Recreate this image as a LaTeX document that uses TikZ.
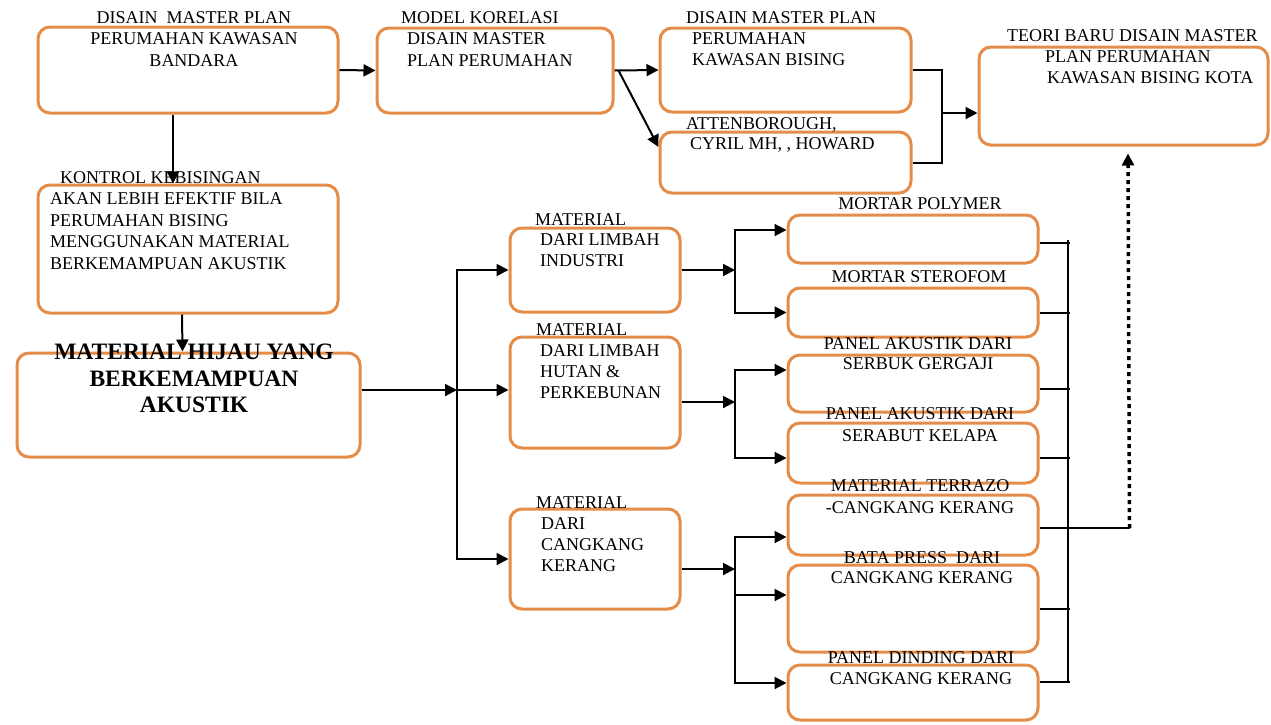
\documentclass[tikz,border=0pt]{standalone}
\usepackage{fontspec}
\setmainfont{Liberation Serif}
\usetikzlibrary{arrows.meta}
\definecolor{boxorange}{RGB}{228,140,72}
\tikzset{
  box/.style={draw=boxorange, line width=3pt, rounded corners=12pt, fill=white, inner sep=0pt},
  lbl/.style={font=\fontsize{18}{21}\selectfont, inner sep=0pt, text=black},
  lblc/.style={lbl, align=center, anchor=north},
  lbll/.style={lbl, align=left, anchor=north west},
  arr/.style={draw=black, line width=2pt, -{Triangle[width=12pt,length=12pt]}},
  conn/.style={draw=black, line width=2pt},
  dotarr/.style={draw=black, line width=3.5pt, dash pattern=on 4pt off 4pt, -{Triangle[width=12pt,length=12pt]}}
}
\begin{document}
\begin{tikzpicture}[x=1pt,y=-1pt]
\useasboundingbox (0,0) rectangle (1271,724);
% boxes
\node[box, minimum width=300pt, minimum height=86pt] (b1) at (188,70) {};
\node[box, minimum width=236pt, minimum height=85pt] (b2) at (495,70.5) {};
\node[box, minimum width=251pt, minimum height=84pt] (b3) at (785.5,70) {};
\node[box, minimum width=251pt, minimum height=61pt] (b4) at (785.5,162.5) {};
\node[box, minimum width=289pt, minimum height=98pt] (b5) at (1123.5,96) {};
\node[box, minimum width=300pt, minimum height=128pt] (b6) at (188,249) {};
\node[box, minimum width=343pt, minimum height=104pt] (b7) at (188.5,405) {};
\node[box, minimum width=170pt, minimum height=84pt] (b8) at (595,270) {};
\node[box, minimum width=170pt, minimum height=111pt] (b9) at (595,392.5) {};
\node[box, minimum width=170pt, minimum height=100pt] (b10) at (595,559) {};
\node[box, minimum width=250pt, minimum height=48pt] (rA) at (913,239) {};
\node[box, minimum width=250pt, minimum height=49pt] (rB) at (913,312.5) {};
\node[box, minimum width=250pt, minimum height=57pt] (rC) at (913,383.5) {};
\node[box, minimum width=250pt, minimum height=60pt] (rD) at (913,453) {};
\node[box, minimum width=250pt, minimum height=60pt] (rE) at (913,525) {};
\node[box, minimum width=250pt, minimum height=87pt] (rF) at (913,608.5) {};
\node[box, minimum width=250pt, minimum height=55pt] (rG) at (913,692.5) {};
% texts
\node[lblc, font=\fontsize{18}{21.5}\selectfont] (t1) at (194,11) {DISAIN\ \ MASTER PLAN\\PERUMAHAN KAWASAN\\BANDARA};
\node[lbll, font=\fontsize{18}{21.5}\selectfont] (t2) at (401,11) {MODEL KORELASI\\\hspace*{6pt}DISAIN MASTER\\\hspace*{6pt}PLAN PERUMAHAN};
\node[lbll] (t3) at (686,11) {DISAIN MASTER PLAN\\\hspace*{6pt}PERUMAHAN\\\hspace*{6pt}KAWASAN BISING};
\node[lbll, font=\fontsize{18}{20}\selectfont] (t4) at (686,117) {ATTENBOROUGH,\\\hspace*{4pt}CYRIL MH, , HOWARD};
\node[lbll] (t5) at (1007,29) {TEORI BARU DISAIN MASTER\\\hspace*{38pt}PLAN PERUMAHAN\\\hspace*{40pt}KAWASAN BISING KOTA};
\node[lbll, font=\fontsize{18}{21.5}\selectfont] (t6) at (50,171) {\hspace*{10pt}KONTROL KEBISINGAN\\AKAN LEBIH EFEKTIF BILA\\PERUMAHAN BISING\\MENGGUNAKAN MATERIAL\\BERKEMAMPUAN AKUSTIK};
\node[lblc, font=\bfseries\fontsize{23.5}{26.5}\selectfont] (t7) at (194,344) {MATERIAL HIJAU YANG\\BERKEMAMPUAN\\AKUSTIK};
\node[lbll, font=\fontsize{18}{20.5}\selectfont] (t8) at (535,213) {MATERIAL\\\hspace*{5pt}DARI LIMBAH\\\hspace*{5pt}INDUSTRI};
\node[lbll] (t9) at (536,323) {MATERIAL\\\hspace*{4pt}DARI LIMBAH\\\hspace*{4pt}HUTAN \&\\\hspace*{4pt}PERKEBUNAN};
\node[lbll] (t10) at (536,496) {MATERIAL\\\hspace*{5pt}DARI\\\hspace*{5pt}CANGKANG\\\hspace*{5pt}KERANG};
\node[lblc] (t11) at (920,197) {MORTAR POLYMER};
\node[lblc] (t12) at (919,270) {MORTAR STEROFOM};
\node[lblc, font=\fontsize{18}{20}\selectfont] (t13) at (918,337) {PANEL AKUSTIK DARI\\SERBUK GERGAJI};
\node[lblc, font=\fontsize{18}{22}\selectfont] (t14) at (920,407) {PANEL AKUSTIK DARI\\SERABUT KELAPA};
\node[lblc, font=\fontsize{18}{22}\selectfont] (t15) at (920,479) {MATERIAL TERRAZO\\-CANGKANG KERANG};
\node[lblc, font=\fontsize{18}{20}\selectfont] (t16) at (922,551) {BATA PRESS\ \ DARI\\CANGKANG KERANG};
\node[lblc] (t17) at (921,651) {PANEL DINDING DARI\\CANGKANG KERANG};
% coordinates
\coordinate (j) at (942,113);
\coordinate (m) at (457,390);
\coordinate (br1) at (735,270);
\coordinate (br2) at (735,402);
\coordinate (br3) at (735,569);
\coordinate (vt) at (1068,240);
\coordinate (vb) at (1068,682);
% connectors
\draw[arr] (b1.east) -- (b2.west);
\draw[arr] ([xshift=-15pt]b1.south) -- ([xshift=-15pt]b6.north);
\draw[arr] ([xshift=-6pt]b6.south) -- ([xshift=-6pt]b7.north);
\draw[arr] (b2.east) -- (b3.west);
\draw[arr] ([xshift=4pt]b2.east) -- ([yshift=15.5pt]b4.west);
\draw[conn] (b3.east) -| (j);
\draw[conn] (b4.east) -| (j);
\draw[arr] (j) -- (j -| b5.west);
\draw[arr] ([yshift=15pt]b7.east) -- (m);
\draw[arr] (m) |- (b8.west);
\draw[arr] (m) -- (m -| b9.west);
\draw[arr] (m) |- (b10.west);
\draw[arr] (b8.east) -- (br1);
\draw[arr] (br1) |- ([yshift=9pt]rA.west);
\draw[arr] (br1) |- (rB.west);
\draw[arr] ([yshift=-9.5pt]b9.east) -- (br2);
\draw[arr] (br2) |- ([yshift=13.5pt]rC.west);
\draw[arr] (br2) |- ([yshift=-5pt]rD.west);
\draw[arr] ([yshift=-10pt]b10.east) -- (br3);
\draw[arr] (br3) |- ([yshift=-12pt]rE.west);
\draw[arr] (br3) |- ([yshift=13.5pt]rF.west);
\draw[arr] (br3) |- ([yshift=9.5pt]rG.west);
\draw[conn] (vt) -- (vb);
\draw[conn] ([yshift=-4pt]rA.east) -- ++(30,0);
\draw[conn] ([yshift=-0.5pt]rB.east) -- ++(30,0);
\draw[conn] ([yshift=-5.5pt]rC.east) -- ++(30,0);
\draw[conn] ([yshift=-5pt]rD.east) -- ++(30,0);
\draw[conn] ([yshift=-3pt]rE.east) -- ++(90,0) coordinate (dt);
\draw[conn] ([yshift=-0.5pt]rF.east) -- ++(30,0);
\draw[conn] ([yshift=10.5pt]rG.east) -- ++(30,0);
\draw[dotarr] (dt) -- ([xshift=4.5pt,yshift=-7pt]b5.south);
\end{tikzpicture}
\end{document}
